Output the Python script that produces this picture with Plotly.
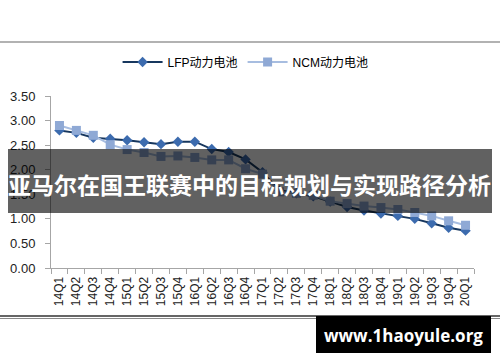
import plotly.graph_objects as go

categories = ["14Q1","14Q2","14Q3","14Q4","15Q1","15Q2","15Q3","15Q4",
              "16Q1","16Q2","16Q3","16Q4","17Q1","17Q2","17Q3","17Q4",
              "18Q1","18Q2","18Q3","18Q4","19Q1","19Q2","19Q3","19Q4","20Q1"]
lfp = [2.80, 2.75, 2.65, 2.63, 2.60, 2.56, 2.52, 2.57, 2.57, 2.42, 2.36, 2.21,
       1.95, 1.58, 1.52, 1.46, 1.35, 1.24, 1.17, 1.11, 1.06, 1.00, 0.91, 0.82, 0.76]
ncm = [2.90, 2.80, 2.70, 2.51, 2.41, 2.35, 2.27, 2.28, 2.25, 2.20, 2.20, 2.02,
       1.91, 1.55, 1.52, 1.48, 1.36, 1.31, 1.26, 1.23, 1.19, 1.13, 1.06, 0.96, 0.87]
yticks = [0, 0.5, 1.0, 1.5, 2.0, 2.5, 3.0, 3.5]
series_names = ["LFP动力电池", "NCM动力电池"]
banner_text = "亚马尔在国王联赛中的目标规划与实现路径分析"
watermark_text = "www.1haoyule.org"

W, H = 500, 362
L, R, T, B = 51, 26, 96, 94
pw, ph = W - L - R, H - T - B

def px(x):
    return (x - L) / pw

def py(y):
    return (H - B - y) / ph

fig = go.Figure()
fig.add_trace(go.Scatter(
    x=categories, y=lfp, name=series_names[0], mode="lines+markers",
    line=dict(color="#17375E", width=2),
    marker=dict(symbol="diamond", size=8, color="#3C6BAE"),
))
fig.add_trace(go.Scatter(
    x=categories, y=ncm, name=series_names[1], mode="lines+markers",
    line=dict(color="#A7BDE0", width=2),
    marker=dict(symbol="square", size=9, color="#8FA9D5"),
))

shapes = [
    dict(type="line", xref="paper", yref="paper", x0=px(0), x1=px(500),
         y0=py(42), y1=py(42), line=dict(color="#999999", width=1.5)),
    dict(type="line", xref="paper", yref="paper", x0=px(0), x1=px(500),
         y0=py(316), y1=py(316), line=dict(color="#333333", width=1.5)),
    dict(type="line", xref="paper", yref="paper", x0=px(0), x1=px(500),
         y0=py(318.5), y1=py(318.5), line=dict(color="#888888", width=1)),
    dict(type="rect", xref="paper", yref="paper", x0=px(8), x1=px(492),
         y0=py(213), y1=py(149), fillcolor="rgba(0,0,0,0.62)",
         line=dict(width=0), layer="above"),
    dict(type="rect", xref="paper", yref="paper", x0=px(316), x1=px(491),
         y0=py(353), y1=py(316), fillcolor="#000000",
         line=dict(width=0), layer="above"),
]

annotations = [
    dict(xref="paper", yref="paper", x=px(249), y=py(184), text="<b>" + banner_text + "</b>",
         showarrow=False, xanchor="center", yanchor="middle",
         font=dict(family="Noto Sans CJK SC", size=23, color="#FFFFFF")),
    dict(xref="paper", yref="paper", x=px(403), y=py(335), text="<b>" + watermark_text + "</b>",
         showarrow=False, xanchor="center", yanchor="middle",
         font=dict(family="Open Sans, Noto Sans", size=17, color="#FFFFFF")),
]

fig.update_layout(
    width=W, height=H,
    margin=dict(l=L, r=R, t=T, b=B, pad=0, autoexpand=False),
    paper_bgcolor="#FFFFFF", plot_bgcolor="#FFFFFF",
    showlegend=True,
    legend=dict(orientation="h", x=0.46, xanchor="center", y=py(62), yanchor="middle",
                font=dict(family="Liberation Sans, Noto Sans CJK SC", size=12, color="#000000"),
                itemwidth=40, tracegroupgap=0, bgcolor="rgba(0,0,0,0)"),
    xaxis=dict(type="category", tickangle=-90, showgrid=False, showline=True,
               linecolor="#A6A6A6", linewidth=1, ticks="outside", ticklen=5,
               tickcolor="#A6A6A6", tickson="boundaries", ticklabelstandoff=3,
               tickfont=dict(family="Liberation Sans, Arial", size=12, color="#222222"),
               range=[-0.5, len(categories) - 0.5]),
    yaxis=dict(range=[0, 3.5], tickvals=yticks, tickformat=".2f", showgrid=False,
               showline=True, linecolor="#A6A6A6", linewidth=1, ticks="outside",
               ticklen=5, tickcolor="#A6A6A6", zeroline=False, ticklabelstandoff=7,
               tickfont=dict(family="Liberation Sans, Arial", size=13, color="#222222")),
    shapes=shapes, annotations=annotations,
)

fig.write_html("out.html", config={"displayModeBar": False},
               post_script="document.body.style.margin='0';document.body.style.padding='0';")
